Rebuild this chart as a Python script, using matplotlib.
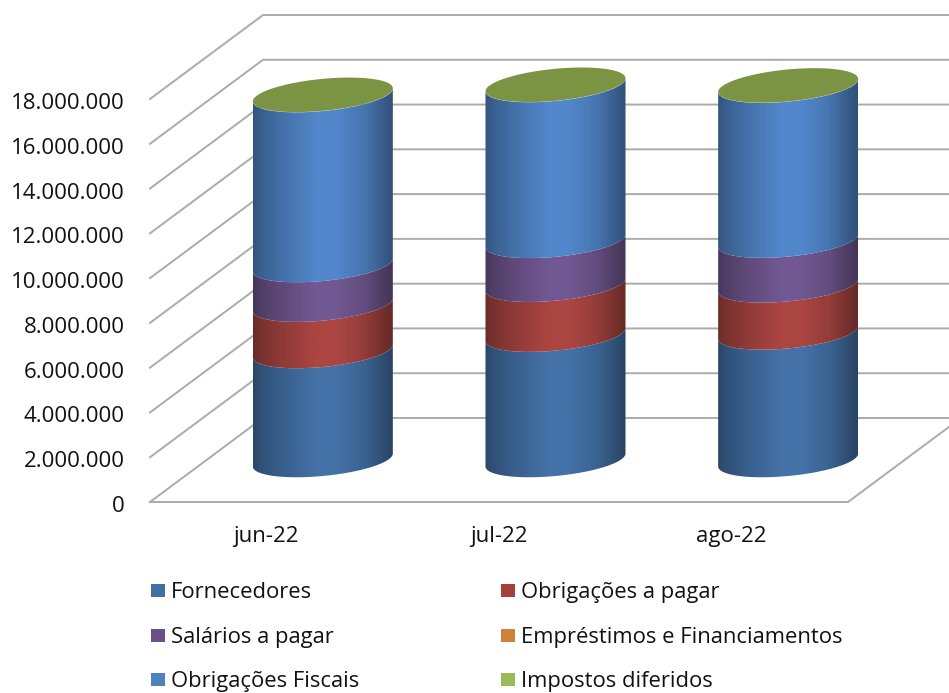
import numpy as np
import matplotlib
matplotlib.use("Agg")
import matplotlib.pyplot as plt
from matplotlib.patches import Polygon, Rectangle
from matplotlib.ticker import FuncFormatter
from matplotlib.transforms import ScaledTranslation

months = ["jun-22", "jul-22", "ago-22"]
fornecedores = [4870000, 5600000, 5700000]
obrigacoes = [2070000, 2230000, 2100000]
salarios = [1770000, 1960000, 2000000]
emprestimos = [0, 0, 0]
fiscais = [7590000, 6960000, 6920000]
impostos = [10000, 10000, 10000]

names = ["Fornecedores", "Obrigações a pagar", "Salários a pagar",
         "Empréstimos e Financiamentos", "Obrigações Fiscais", "Impostos diferidos"]
series = [fornecedores, obrigacoes, salarios, emprestimos, fiscais, impostos]
colors = ["#4472A8", "#AB4642", "#725892", "#D0823C", "#5287CB", "#7A9443"]
legend_colors = ["#426FA2", "#A5403D", "#6B4F88", "#D0823C", "#4F81BD", "#9BBB59"]

W, H = 949, 693
GRID = "#ABABAB"
plt.rcParams["font.family"] = ["Open Sans", "DejaVu Sans"]

fig = plt.figure(figsize=(W / 100, H / 100), dpi=100)
ax = fig.add_axes([150 / W, 1 - 502 / H, 698 / W, 403 / H])
ax.set_xlim(-0.5, 2.5)
ax.set_ylim(0, 18000000)

# depth of the fake 3d box, in data units
dx = 113 / (698 / 3)
dy = 84 * 18000000 / 403
# cylinder shape, in data units
a = 70 / (698 / 3)
b = 16 * 18000000 / 403
tilt = 6.5 * 18000000 / 403

for s in ax.spines.values():
    s.set_visible(False)
ax.patch.set_visible(False)
ax.set_xticks(range(3), months)
ax.set_yticks(range(0, 18000001, 2000000))
ax.yaxis.set_major_formatter(FuncFormatter(lambda v, p: f"{int(v):,}".replace(",", ".")))
ax.tick_params(axis="y", length=0, pad=18, labelsize=16, colors="#111111")
ax.tick_params(axis="x", length=0, pad=17, labelsize=16, colors="#111111")
# the y labels sit a little lower than the tick position
for lab in ax.get_yticklabels():
    lab.set_transform(lab.get_transform() + ScaledTranslation(0, -2 / 100, fig.dpi_scale_trans))

# walls and floor
for v in ax.get_yticks():
    ax.plot([-0.5, -0.5 + dx, 2.5 + dx], [v, v + dy, v + dy], color=GRID, lw=1.4,
            clip_on=False, zorder=1, solid_joinstyle="miter")
ax.plot([-0.5, 2.5, 2.5 + dx], [0, 0, dy], color=GRID, lw=1.4, clip_on=False, zorder=1)

# horizontal shading across the cylinder
xs = np.linspace(0, 1, 140)
shade = np.interp(xs, [0, 0.05, 0.2, 0.45, 0.6, 0.8, 0.95, 1],
                  [0.62, 0.70, 0.83, 1.0, 1.0, 0.86, 0.66, 0.60])


def lower_arc(cx, y):
    t = np.linspace(0, np.pi, 80)
    return np.column_stack([cx - a * np.cos(t), y - tilt * np.cos(t) - b * np.sin(t)])


for i in range(3):
    cx = i + dx / 2
    bottom = dy / 2
    for vals, col in zip(series, colors):
        top = bottom + vals[i]
        if vals[i] > 50000:
            poly = Polygon(np.vstack([lower_arc(cx, bottom), lower_arc(cx, top)[::-1]]),
                           closed=True, transform=ax.transData, fc="none", ec="none",
                           clip_on=False)
            ax.add_patch(poly)
            rgb = np.array(matplotlib.colors.to_rgb(col))
            img = (shade[:, None] * rgb)[None, :, :]
            im = ax.imshow(img, extent=[cx - a, cx + a, bottom - 2 * b, top + 2 * b],
                           aspect="auto", interpolation="bilinear", zorder=3)
            im.set_clip_box(fig.bbox)
            im.set_clip_path(poly)
        bottom = top
    # top cap
    t = np.linspace(0, 2 * np.pi, 160)
    cap = np.column_stack([cx + a * np.cos(t), bottom + tilt * np.cos(t) + b * np.sin(t)])
    ax.add_patch(Polygon(cap, closed=True, fc=colors[5], ec="none", zorder=4, clip_on=False))

ax.set_xlim(-0.5, 2.5)
ax.set_ylim(0, 18000000)

# legend, two columns filled row by row
col_x = [151, 501]
row_y = [590, 635, 679]
for k, name in enumerate(names):
    x = col_x[k % 2]
    y = row_y[k // 2]
    fig.add_artist(Rectangle((x / W, 1 - (y + 6.5) / H), 14 / W, 13 / H,
                             transform=fig.transFigure, fc=legend_colors[k], ec="none"))
    fig.text((x + 20) / W, 1 - (y + 2.5) / H, name, fontsize=15.85, color="#111111", va="center", ha="left")

fig.savefig("out.png", dpi=100)
